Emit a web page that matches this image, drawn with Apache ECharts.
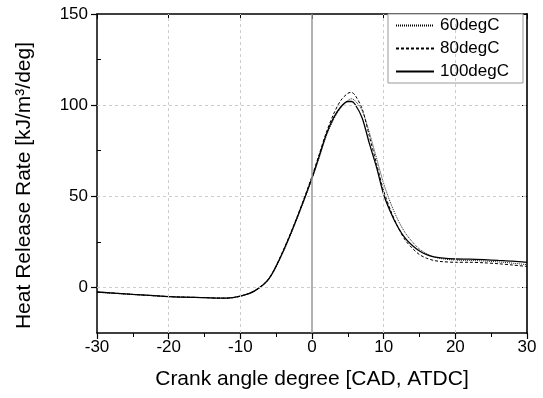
<!DOCTYPE html>
<html>
<head>
<meta charset="utf-8">
<script src="https://cdn.jsdelivr.net/npm/echarts@6/dist/echarts.min.js"></script>
<style>html,body{margin:0;padding:0;background:#fff;}#c{width:543px;height:398px;}</style>
</head>
<body>
<div id="c"></div>
<script>
const cad = [-30,-25,-20,-15,-12,-10,-8,-6,-4,-2,0,1,2,3,4,5,5.5,6,7,8,9,10,11,12,13,14,15,16,17,18,20,22,24,26,28,30];
const hrr60  = [-2.6,-3.9,-5.0,-5.6,-5.9,-4.8,-2.0,4.5,19.5,38.5,59.5,71,83,92,98.5,102.5,103.5,102.5,97,85,71,57,46,37,30,25,21,18.5,16.8,15.8,15.0,14.8,14.5,14.0,13.3,12.5];
const hrr80  = [-2.5,-3.8,-5.0,-5.6,-5.9,-4.8,-1.8,5.0,20.5,39.5,61,73,85,95,102.5,106.5,107,105.5,98,83,68,53,42,33,26,21.5,18,16,14.8,14.2,13.8,13.8,13.5,13.0,12.3,11.5];
const hrr100 = [-2.5,-3.8,-5.0,-5.6,-5.9,-4.8,-1.9,4.8,20,39,60,72,84,93,99,102,102,100.5,93,79,66,51,41,33,27,23,20,18,16.8,16.2,15.6,15.5,15.2,14.8,14.4,13.8];
const yLabels = [0,50,100,150];
const yMinor = [25,75,125];
const xGrid = [-20,-10,10,20];
const yGrid = [0,50,100];

const pairs = (ys) => cad.map((x,i)=>[x,ys[i]]);
const font = "'Liberation Sans', Arial, sans-serif";
const chart = echarts.init(document.getElementById('c'));
const gridLine = {type:[3,3], color:'#cccccc', width:1};
chart.setOption({
  animation:false,
  backgroundColor:'#fff',
  grid:{left:97, right:16, top:14, bottom:65, containLabel:false},
  legend:{
    data:['60degC','80degC','100degC'],
    orient:'vertical', right:20, top:14,
    backgroundColor:'#fff', borderColor:'#999', borderWidth:1,
    padding:[3,14,3,7], itemWidth:38, itemHeight:12, itemGap:6,
    itemStyle:{opacity:0},
    textStyle:{fontFamily:font, fontSize:17, color:'#000', padding:[0,0,0,1]}
  },
  xAxis:[{
    type:'value', min:-30, max:30, interval:10,
    name:'Crank angle degree [CAD, ATDC]', nameLocation:'middle', nameGap:36,
    nameTextStyle:{fontFamily:font, fontSize:21, color:'#000'},
    axisLine:{show:true, onZero:false, lineStyle:{color:'#000', width:1.5}},
    axisTick:{show:true, inside:false, length:6, lineStyle:{color:'#000', width:1.2}},
    minorTick:{show:true, splitNumber:2, length:4, lineStyle:{color:'#000', width:1}},
    axisLabel:{fontFamily:font, fontSize:17, color:'#000', margin:6},
    splitLine:{show:false}
  },{
    type:'value', position:'top', min:-30, max:30, interval:10,
    axisLine:{show:true, onZero:false, lineStyle:{color:'#000', width:1.5}},
    axisTick:{show:true, inside:true, length:5, lineStyle:{color:'#000', width:1}},
    axisLabel:{show:false}, splitLine:{show:false}
  }],
  yAxis:[{
    type:'value', min:-25, max:150,
    name:'Heat Release Rate [kJ/m³/deg]', nameLocation:'middle', nameGap:62,
    nameTextStyle:{fontFamily:font, fontSize:21, color:'#000', padding:[0,24,0,0]},
    axisLine:{show:true, onZero:false, lineStyle:{color:'#000', width:1.5}},
    axisTick:{show:true, inside:false, length:6, customValues:yLabels, lineStyle:{color:'#000', width:1.2}},
    axisLabel:{fontFamily:font, fontSize:17, color:'#000', margin:9, customValues:yLabels},
    splitLine:{show:false}
  },{
    type:'value', position:'left', min:-25, max:150,
    axisLine:{show:false, onZero:false},
    axisTick:{show:true, inside:true, length:4, customValues:yMinor, lineStyle:{color:'#000', width:1}},
    axisLabel:{show:false}, splitLine:{show:false}
  },{
    type:'value', position:'right', min:-25, max:150,
    axisLine:{show:true, onZero:false, lineStyle:{color:'#333', width:2}},
    axisTick:{show:true, inside:true, length:5, customValues:yLabels, lineStyle:{color:'#000', width:1}},
    axisLabel:{show:false}, splitLine:{show:false}
  }],
  series:[
    {
      name:'grid', type:'line', data:[], z:1, silent:true,
      markLine:{
        silent:true, symbol:'none', label:{show:false}, animation:false,
        data:[
          ...xGrid.map(v=>({xAxis:v, lineStyle:gridLine})),
          ...yGrid.map(v=>({yAxis:v, lineStyle:gridLine})),
          {xAxis:0, lineStyle:{type:'solid', color:'#999', width:1.5}}
        ]
      }
    },
    {name:'60degC', type:'line', data:pairs(hrr60), smooth:0.3, symbol:'none', z:3,
     itemStyle:{color:'#000'}, lineStyle:{color:'#000', width:0.9, type:[1,1]}},
    {name:'80degC', type:'line', data:pairs(hrr80), smooth:0.3, symbol:'none', z:3,
     itemStyle:{color:'#000'}, lineStyle:{color:'#000', width:1, type:[3,2]}},
    {name:'100degC', type:'line', data:pairs(hrr100), smooth:0.3, symbol:'none', z:4,
     itemStyle:{color:'#000'}, lineStyle:{color:'#000', width:1.3, type:'solid'}}
  ]
});
</script>
</body>
</html>
